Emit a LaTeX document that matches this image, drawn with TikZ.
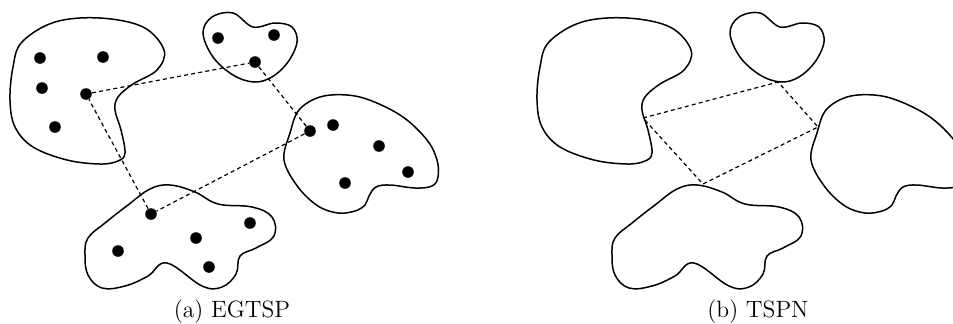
\documentclass[tikz,border=0pt]{standalone}
\begin{document}
\begin{tikzpicture}[x=0.5pt,y=-0.5pt,
  blob/.style={draw=black, line width=0.75pt},
  dot/.style={circle, fill=black, inner sep=0pt, minimum size=5.8pt},
  tour/.style={dash pattern=on 2pt off 1.6pt, line width=0.6pt},
  caption/.style={font=\fontsize{11.8}{14}\selectfont, anchor=base, inner sep=0pt}]
\useasboundingbox (0,0) rectangle (953,323);
\clip (0,0) rectangle (953,323);
\newcommand{\myblobs}{%
  \draw[blob] plot[smooth cycle, tension=0.6] coordinates {(22,42) (55,22) (100,18) (143,27) (164,50) (157,70) (133,84) (118,97) (115,110) (121,130) (125,153) (118,161) (100,164) (67,160) (33,147) (15,127) (10,100) (13,67)};
  \draw[blob] plot[smooth cycle, tension=0.6] coordinates {(203,33) (212,17) (233,13) (253,27) (275,23) (292,27) (297,42) (288,62) (272,77) (254,82) (233,75) (213,57)};
  \draw[blob] plot[smooth cycle, tension=0.6] coordinates {(299,110) (320,97) (347,95) (372,101) (403,117) (427,140) (437,160) (438,177) (432,186) (415,188) (390,185) (376,187) (369,196) (365,205) (355,211) (338,213) (318,206) (298,187) (284,160) (290,133)};
  \draw[blob] plot[smooth cycle, tension=0.65] coordinates {(88,238) (105,223) (128,205) (150,189) (170,185) (195,192) (218,204) (252,207) (272,217) (274,236) (256,248) (240,256) (236,274) (222,287) (202,286) (167,263) (148,276) (125,286) (102,288) (88,275) (85,255)};
}
% (a) EGTSP
\begin{scope}
  \myblobs
  \node[dot] (p1) at (40,58) {};
  \node[dot] (p2) at (103,57) {};
  \node[dot] (p3) at (42,88) {};
  \node[dot] (a1) at (86,94) {};
  \node[dot] (p4) at (55,127) {};
  \node[dot] (q1) at (218,38) {};
  \node[dot] (q2) at (274,35) {};
  \node[dot] (a2) at (255,62) {};
  \node[dot] (a3) at (310,131) {};
  \node[dot] (r1) at (333,125) {};
  \node[dot] (r2) at (379,146) {};
  \node[dot] (r3) at (408,172) {};
  \node[dot] (r4) at (345,183) {};
  \node[dot] (a4) at (151,214) {};
  \node[dot] (s1) at (250,223) {};
  \node[dot] (s2) at (196,238) {};
  \node[dot] (s3) at (118,251) {};
  \node[dot] (s4) at (209,267) {};
  \draw[tour] (a1) -- (a2) -- (a3) -- (a4) -- (a1);
  \node[caption] (capa) at (232,317) {(a) EGTSP};
\end{scope}
% (b) TSPN
\begin{scope}[shift={(527,0)}]
  \myblobs
  \coordinate (b1) at (116,118);
  \coordinate (b2) at (251,82);
  \coordinate (b3) at (291,127);
  \coordinate (b4) at (176,184);
  \draw[tour] (b1) -- (b2) -- (b3) -- (b4) -- (b1);
  \node[caption] (capb) at (231,317) {(b) TSPN};
\end{scope}
\end{tikzpicture}
\end{document}
